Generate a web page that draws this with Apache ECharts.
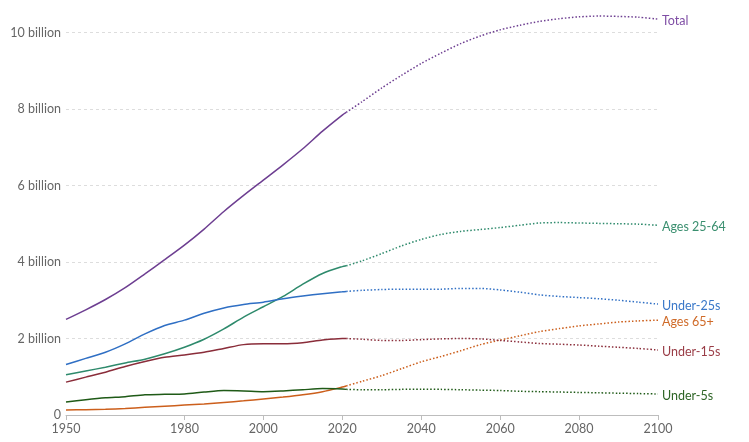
<!DOCTYPE html>
<html>
<head>
<meta charset="utf-8">
<script src="https://cdn.jsdelivr.net/npm/echarts@6/dist/echarts.min.js"></script>
<style>
html,body{margin:0;padding:0;background:#fff;}
#chart{width:749px;height:442px;}
</style>
</head>
<body>
<div id="chart"></div>
<script>
// Years
const histYears = [1950,1955,1960,1965,1970,1975,1980,1985,1990,1995,2000,2005,2010,2015,2020,2021];
const projYears = [2021,2025,2030,2035,2040,2045,2050,2055,2060,2065,2070,2075,2080,2085,2090,2095,2100];
const xTickValues = [1950,1980,2000,2020,2040,2060,2080,2100];
const yTickValues = [0,2,4,6,8,10];

// Values in billions
const totalHist   = [2.50,2.75,3.02,3.33,3.69,4.06,4.44,4.86,5.32,5.74,6.14,6.54,6.96,7.42,7.84,7.91];
const totalProj   = [7.91,8.19,8.55,8.88,9.19,9.46,9.71,9.91,10.07,10.19,10.29,10.36,10.41,10.43,10.42,10.40,10.35];
const a2564Hist   = [1.05,1.15,1.25,1.36,1.46,1.60,1.77,1.98,2.25,2.56,2.83,3.10,3.42,3.70,3.88,3.90];
const a2564Proj   = [3.90,4.03,4.22,4.42,4.59,4.72,4.80,4.85,4.90,4.96,5.02,5.03,5.02,5.01,5.00,4.99,4.96];
const u25Hist     = [1.32,1.48,1.64,1.86,2.12,2.34,2.48,2.66,2.80,2.89,2.95,3.04,3.11,3.17,3.22,3.23];
const u25Proj     = [3.23,3.26,3.28,3.29,3.29,3.29,3.31,3.31,3.27,3.21,3.14,3.10,3.07,3.04,3.00,2.95,2.90];
const a65Hist     = [0.13,0.14,0.15,0.17,0.20,0.23,0.26,0.29,0.33,0.37,0.42,0.47,0.53,0.61,0.73,0.76];
const a65Proj     = [0.76,0.88,1.03,1.21,1.39,1.53,1.68,1.84,1.96,2.07,2.18,2.26,2.33,2.38,2.43,2.46,2.48];
const u15Hist     = [0.86,0.99,1.12,1.27,1.40,1.51,1.57,1.64,1.74,1.84,1.86,1.86,1.89,1.96,2.00,2.00];
const u15Proj     = [2.00,1.98,1.95,1.95,1.97,1.99,2.00,1.99,1.95,1.91,1.87,1.85,1.83,1.80,1.77,1.74,1.70];
const u5Hist      = [0.34,0.40,0.45,0.48,0.53,0.54,0.55,0.60,0.64,0.63,0.61,0.63,0.66,0.69,0.68,0.67];
const u5Proj      = [0.67,0.66,0.66,0.67,0.67,0.67,0.66,0.65,0.64,0.62,0.61,0.60,0.59,0.58,0.57,0.56,0.55];

const seriesNames = ['Total','Ages 25-64','Under-25s','Ages 65+','Under-15s','Under-5s'];
const seriesColors = ['#6d3e91','#2e8a6c','#2f6fc4','#cc5f1c','#8a2d3a','#1f5a17'];
const labelColors  = ['#7f4ea5','#3a8f6f','#3a78c9','#cf6a28','#9a3d47','#2e6526'];
const histData = [totalHist,a2564Hist,u25Hist,a65Hist,u15Hist,u5Hist];
const projData = [totalProj,a2564Proj,u25Proj,a65Proj,u15Proj,u5Proj];

const pair = (xs, ys) => xs.map((x,i)=>[x, ys[i]]);

const series = [];
seriesNames.forEach((name, i) => {
  series.push({
    name: name, type: 'line', data: pair(histYears, histData[i]),
    smooth: 0.25, showSymbol: false, clip: false,
    lineStyle: {color: seriesColors[i], width: 1.5}, silent: true, z: 3
  });
  series.push({
    name: name + ' proj', type: 'line', data: pair(projYears, projData[i]),
    smooth: 0.25, showSymbol: false, clip: false,
    lineStyle: {color: seriesColors[i], width: 1.5, type: [1.5, 2]}, silent: true, z: 2,
    endLabel: {
      show: true, formatter: name, color: labelColors[i],
      fontFamily: 'Lato', fontSize: 12.5, distance: 4, offset: [0, 2]
    }
  });
});

const chart = echarts.init(document.getElementById('chart'), null, {renderer: 'canvas'});
chart.setOption({
  animation: false,
  backgroundColor: '#fff',
  grid: {left: 66, right: 91, top: 32.5, bottom: 27, containLabel: false},
  xAxis: {
    type: 'value', min: 1950, max: 2100,
    splitLine: {show: false},
    axisLine: {show: true, lineStyle: {color: '#bdbdbd', width: 1}},
    axisTick: {show: true, customValues: xTickValues, length: 5, lineStyle: {color: '#bdbdbd'}},
    axisLabel: {customValues: xTickValues, color: '#666', fontFamily: 'Lato', fontSize: 12.5, margin: 7,
      formatter: v => String(v)}
  },
  yAxis: {
    type: 'value', min: 0, max: 10, interval: 2,
    axisLine: {show: false}, axisTick: {show: false},
    splitLine: {show: true, lineStyle: {color: '#dddddd', type: [3, 3], width: 1}},
    axisLabel: {color: '#666', fontFamily: 'Lato', fontSize: 12.5, margin: 5,
      formatter: v => v === 0 ? '0' : v + ' billion'}
  },
  series: series
});
</script>
</body>
</html>
